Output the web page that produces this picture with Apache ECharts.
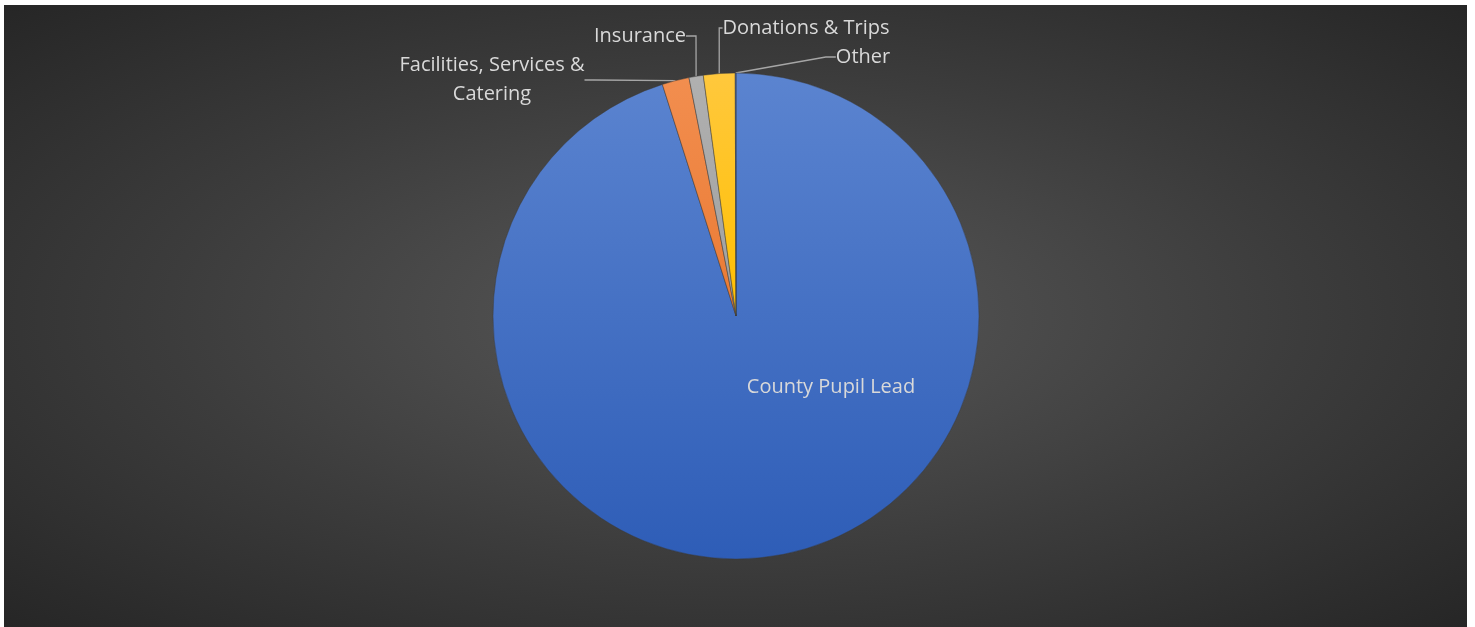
<!DOCTYPE html>
<html>
<head>
<meta charset="utf-8">
<script src="https://cdn.jsdelivr.net/npm/echarts@6/dist/echarts.min.js"></script>
<style>
  html, body { margin: 0; padding: 0; background: #ffffff; }
  #pieChart {
    position: absolute;
    left: 4px;
    top: 5px;
    width: 1463px;
    height: 622px;
    background: radial-gradient(ellipse at 50% 50%, #595959 0%, #3c3c3c 55%, #262626 100%);
  }
</style>
</head>
<body>
<div id="pieChart"></div>
<script>
// 数据
const categories = ['County Pupil Lead', 'Facilities, Services &\nCatering', 'Insurance', 'Donations & Trips', 'Other'];
const values = [95.1, 1.8, 0.95, 2.1, 0.05];

// 每块的颜色（上浅下深）
const sliceColors = [
  ['#5b84d0', '#2e5db7'],
  ['#f28e4f', '#ea7a33'],
  ['#b0b0b0', '#a0a0a0'],
  ['#ffc83d', '#ffbf00'],
  ['#4a74c4', '#4a74c4']
];

// 标签位置（相对图表容器）
const labelPos = [
  [827, 382],
  [488, 75],
  [636, 31],
  [802, 23],
  [859, 52]
];

const chart = echarts.init(document.getElementById('pieChart'));

const option = {
  backgroundColor: 'transparent',
  series: [
    {
      type: 'pie',
      center: [732, 311],
      radius: [0, 243],
      startAngle: 90,
      clockwise: true,
      avoidLabelOverlap: false,
      itemStyle: {
        borderColor: 'rgba(60,60,60,0.5)',
        borderWidth: 0.5
      },
      label: {
        show: true,
        position: 'outside',
        color: '#d9d9d9',
        fontFamily: 'Open Sans',
        fontSize: 20,
        lineHeight: 29,
        align: 'center'
      },
      labelLine: {
        show: true,
        length: 10,
        length2: 10,
        lineStyle: { color: '#a6a6a6', width: 1.3 }
      },
      labelLayout: function (p) {
        const pos = labelPos[p.dataIndex];
        return { x: pos[0], y: pos[1], align: 'center', verticalAlign: 'middle' };
      },
      emphasis: { disabled: true },
      data: categories.map((name, i) => ({
        name: name,
        value: values[i],
        itemStyle: {
          color: new echarts.graphic.LinearGradient(0, 0, 0, 1, [
            { offset: 0, color: sliceColors[i][0] },
            { offset: 1, color: sliceColors[i][1] }
          ])
        },
        labelLine: i === 0 ? { show: false } : undefined
      }))
    }
  ]
};

chart.setOption(option);
</script>
</body>
</html>
